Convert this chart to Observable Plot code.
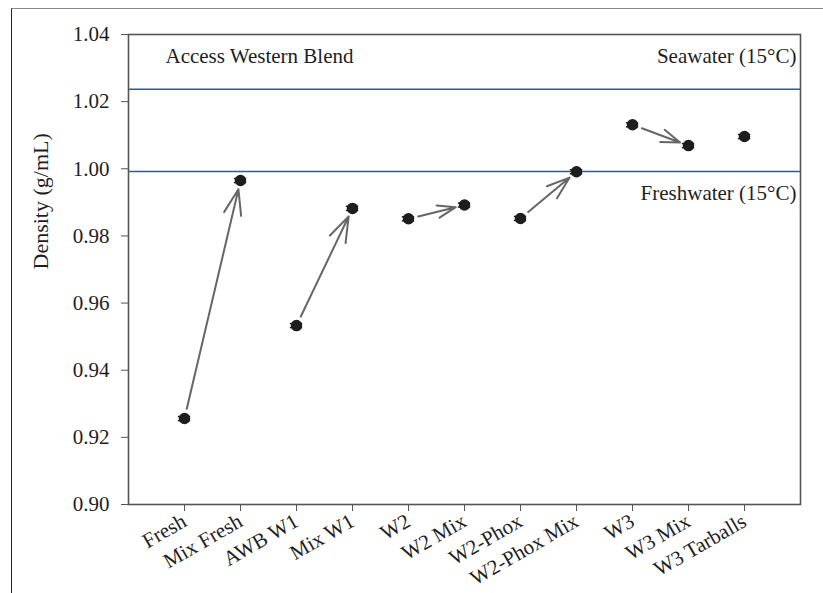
<!DOCTYPE html>
<html>
<head>
<meta charset="utf-8">
<script src="https://cdn.jsdelivr.net/npm/d3@7"></script>
<script src="https://cdn.jsdelivr.net/npm/@observablehq/plot@0.6"></script>
<style>
  html, body { margin: 0; padding: 0; background: #fff; }
  #wrap { position: relative; width: 823px; height: 593px; overflow: hidden; }
  #border { position: absolute; left: 11px; top: 8px; right: -4px; bottom: -4px;
            border-top: 1.5px solid #8a8a8a; border-left: 1.5px solid #222; }
  #chart { position: absolute; left: 0; top: 0; }
</style>
</head>
<body>
<div id="wrap"><div id="border"></div><div id="chart"></div></div>
<script>
// Samples, in plotting order
const samples = ["Fresh", "Mix Fresh", "AWB W1", "Mix W1", "W2", "W2 Mix",
                 "W2-Phox", "W2-Phox Mix", "W3", "W3 Mix", "W3 Tarballs"];
// Mean density (g/mL) and standard deviation for each sample
const density = [0.9256, 0.9965, 0.9533, 0.9882, 0.9851, 0.9892,
                 0.9852, 0.9991, 1.0131, 1.0069, 1.0096];
const stdev = [0.0006, 0.0006, 0.0006, 0.0006, 0.0006, 0.0006,
               0.0006, 0.0006, 0.0006, 0.0006, 0.0006];
// Weathered sample -> its mixed counterpart
const transitions = [["Fresh", "Mix Fresh"], ["AWB W1", "Mix W1"], ["W2", "W2 Mix"],
                     ["W2-Phox", "W2-Phox Mix"], ["W3", "W3 Mix"]];
// Reference water densities at 15 °C
const waterNames = ["Seawater (15°C)", "Freshwater (15°C)"];
const waterDensity = [1.0237, 0.9992];
const yTicks = [0.90, 0.92, 0.94, 0.96, 0.98, 1.00, 1.02, 1.04];

const rows = samples.map((s, i) => ({sample: s, pos: i + 1, density: density[i], sd: stdev[i]}));
const bySample = new Map(rows.map(d => [d.sample, d]));
const arrowRows = transitions.map(([a, b]) => ({from: bySample.get(a), to: bySample.get(b)}));
const waters = waterNames.map((n, i) => ({name: n, density: waterDensity[i]}));

const font = "'Liberation Serif', 'Times New Roman', serif";
const ink = "#1e1e1e";

const chart = Plot.plot({
  width: 823,
  height: 593,
  marginLeft: 128,
  marginRight: 23,
  marginTop: 34,
  marginBottom: 89,
  style: {fontFamily: font, fontSize: "21px", color: ink, background: "transparent"},
  x: {domain: [0, 12]},
  y: {domain: [0.90, 1.04]},
  marks: [
    Plot.ruleY(waters, {y: "density", stroke: "#3553a8", strokeWidth: 1.5}),
    Plot.arrow(arrowRows, {
      x1: d => d.from.pos, y1: d => d.from.density,
      x2: d => d.to.pos, y2: d => d.to.density,
      stroke: "#666", strokeWidth: 2, headLength: 20, headAngle: 38,
      insetStart: 10, insetEnd: 9
    }),
    Plot.ruleY(rows, {x1: d => d.pos - 0.11, x2: d => d.pos + 0.11, y: d => d.density - d.sd, stroke: ink, strokeWidth: 1.5}),
    Plot.ruleY(rows, {x1: d => d.pos - 0.11, x2: d => d.pos + 0.11, y: d => d.density + d.sd, stroke: ink, strokeWidth: 1.5}),
    Plot.ruleX(rows, {x: "pos", y1: d => d.density - d.sd, y2: d => d.density + d.sd, stroke: ink, strokeWidth: 1.5}),
    Plot.dot(rows, {x: "pos", y: "density", r: 5, fill: ink, stroke: ink}),
    Plot.text(["Access Western Blend"], {x: 0.66, y: 1.0334, text: d => d, textAnchor: "start", fontSize: 21, fill: ink}),
    Plot.text(waters, {x: 12, y: d => d.name.startsWith("Sea") ? 1.0334 : 0.9926, text: "name", dx: -4, textAnchor: "end", fontSize: 21, fill: ink}),
    Plot.text(["Density (g/mL)"], {frameAnchor: "left", dx: -88, rotate: -90, text: d => d, fontSize: 22, fill: ink}),
    Plot.axisY({ticks: yTicks, tickFormat: d3.format(".2f"), tickSize: 7, tickPadding: 12, label: null, fontSize: 21, stroke: "#555"}),
    Plot.axisX({ticks: d3.range(1, 12), tickFormat: i => samples[i - 1], tickRotate: -30, tickSize: 7, tickPadding: 8, label: null, fontSize: 21, stroke: "#555"}),
    Plot.frame({stroke: "#555", strokeWidth: 1.6})
  ]
});
document.getElementById("chart").appendChild(chart);
</script>
</body>
</html>
